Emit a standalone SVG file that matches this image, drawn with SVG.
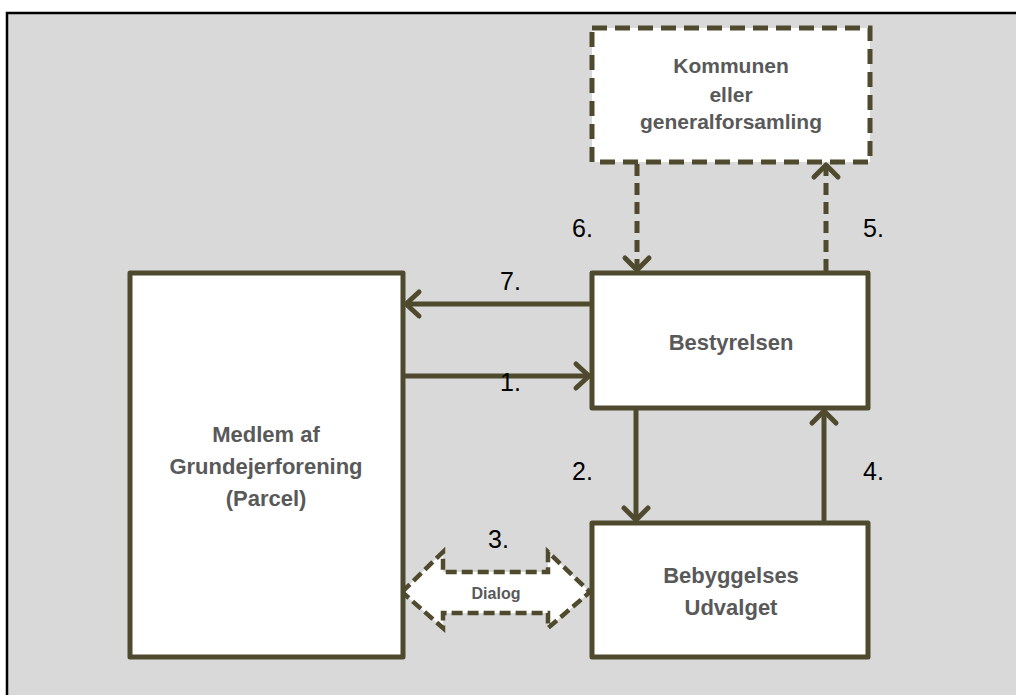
<svg xmlns="http://www.w3.org/2000/svg" width="1016" height="695" viewBox="0 0 1016 695">
<defs>
<style>
.box{fill:#ffffff;stroke:#4F4A2E;stroke-width:5;stroke-linejoin:round}
.dbox{fill:#ffffff;stroke:#4F4A2E;stroke-width:5;stroke-dasharray:15 8}
.ln{fill:none;stroke:#4F4A2E;stroke-width:5}
.dln{fill:none;stroke:#4F4A2E;stroke-width:5;stroke-dasharray:12 7}
.head{fill:none;stroke:#4F4A2E;stroke-width:5;stroke-linecap:round;stroke-linejoin:round}
.lbl{font-family:"Liberation Sans",Arial,sans-serif;font-weight:bold;fill:#595959;text-anchor:middle}
.num{font-family:"Liberation Sans",Arial,sans-serif;font-size:25px;fill:#000000}
</style>
</defs>
<rect x="7" y="13" width="1020" height="700" fill="#d9d9d9" stroke="#000000" stroke-width="2.5"/>

<g id="connectors">
  <!-- 7: Bestyrelsen -> Medlem -->
  <line class="ln" x1="592" y1="304" x2="407" y2="304"/>
  <polyline class="head" points="419,292 406,304 419,316"/>
  <!-- 1: Medlem -> Bestyrelsen -->
  <line class="ln" x1="403" y1="376" x2="588" y2="376"/>
  <polyline class="head" points="576,364 589,376 576,388"/>
  <!-- 2: Bestyrelsen -> Bebyggelses -->
  <line class="ln" x1="636" y1="408" x2="636" y2="519"/>
  <polyline class="head" points="624,508 636,520 648,508"/>
  <!-- 4: Bebyggelses -> Bestyrelsen -->
  <line class="ln" x1="824" y1="523" x2="824" y2="412"/>
  <polyline class="head" points="812,423 824,411 836,423"/>
  <!-- 6: Kommunen -> Bestyrelsen -->
  <line class="dln" x1="637" y1="164" x2="637" y2="268"/>
  <polyline class="head" points="625,258 637,270 649,258"/>
  <!-- 5: Bestyrelsen -> Kommunen -->
  <line class="dln" x1="826" y1="271" x2="826" y2="168"/>
  <polyline class="head" points="814,177 826,165 838,177"/>
  <!-- 3: Dialog double arrow -->
  <polygon points="402,592 443,552 443,572 548,572 548,552 590,592 548,628 548,613 443,613 443,628" fill="#ffffff" stroke="#4F4A2E" stroke-width="4.5" stroke-dasharray="11 5" stroke-linejoin="miter"/>
  <text x="496" y="599" class="lbl" font-size="16">Dialog</text>
</g>

<g id="node-medlem">
  <rect class="box" x="130" y="273" width="273" height="384"/>
  <text class="lbl" font-size="22" x="266" y="442">Medlem af</text>
  <text class="lbl" font-size="22" x="266" y="474">Grundejerforening</text>
  <text class="lbl" font-size="22" x="266" y="506">(Parcel)</text>
</g>

<g id="node-bestyrelsen">
  <rect class="box" x="592" y="273" width="276" height="135"/>
  <text class="lbl" font-size="22" x="731" y="350">Bestyrelsen</text>
</g>

<g id="node-bebyggelses">
  <rect class="box" x="592" y="523" width="276" height="134"/>
  <text class="lbl" font-size="22" x="731" y="583">Bebyggelses</text>
  <text class="lbl" font-size="22" x="731" y="615">Udvalget</text>
</g>

<g id="node-kommunen">
  <rect class="dbox" x="592" y="28" width="278" height="134"/>
  <text class="lbl" font-size="21" x="731" y="73">Kommunen</text>
  <text class="lbl" font-size="21" x="731" y="102">eller</text>
  <text class="lbl" font-size="21" x="731" y="129">generalforsamling</text>
</g>

<g id="labels">
  <text class="num" x="500" y="290">7.</text>
  <text class="num" x="500" y="391">1.</text>
  <text class="num" x="572" y="480">2.</text>
  <text class="num" x="488" y="548">3.</text>
  <text class="num" x="863" y="480">4.</text>
  <text class="num" x="863" y="237">5.</text>
  <text class="num" x="572" y="237">6.</text>
</g>
</svg>
